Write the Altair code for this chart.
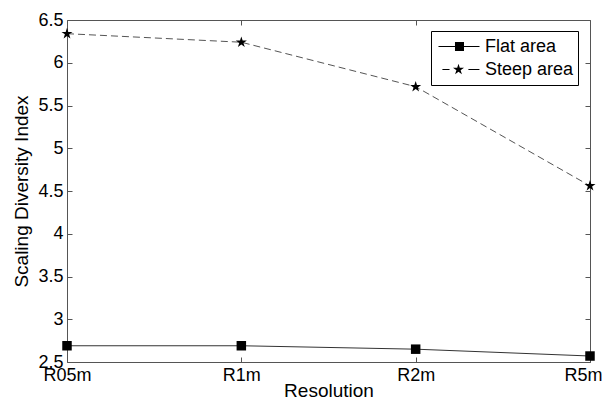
import altair as alt
import pandas as pd
import numpy as np

# ---- data ----
resolutions = ["R05m", "R1m", "R2m", "R5m"]
flat_area = [2.69, 2.69, 2.65, 2.57]
steep_area = [6.34, 6.24, 5.72, 4.56]
series_names = ["Flat area", "Steep area"]
y_ticks = [2.5, 3, 3.5, 4, 4.5, 5, 5.5, 6, 6.5]

df = pd.DataFrame({
    "Resolution": resolutions * 2,
    "value": flat_area + steep_area,
    "series": [series_names[0]] * len(resolutions) + [series_names[1]] * len(resolutions),
})

FONT = "Liberation Sans"
FRAME = "#555555"
W, H = 523, 342
TICK = 5


def star_path(cx, r_out, ratio=0.382):
    pts = []
    for k in range(10):
        ang = np.deg2rad(-90 + 36 * k)
        r = r_out if k % 2 == 0 else r_out * ratio
        pts.append((cx + r * np.cos(ang), r * np.sin(ang)))
    return "M" + "L".join(f"{x:.4f},{y:.4f}" for x, y in pts) + "Z"


def seg(x0, x1, h=0.022):
    # thin filled bar standing in for a legend line segment
    return f"M{x0},{-h}L{x1},{-h}L{x1},{h}L{x0},{h}Z"


SQUARE = "M-1,-1H1V1H-1Z"
STAR = star_path(0, 1)
LEG_SQUARE = seg(-0.87, 0.913) + "M-0.153,-0.196L0.239,-0.196L0.239,0.196L-0.153,0.196Z"
LEG_STAR = seg(-0.70, -0.39) + seg(0.43, 0.91) + star_path(0, 0.252)

x_enc = alt.X(
    "Resolution:N",
    scale=alt.Scale(type="point", domain=resolutions, padding=0),
    sort=resolutions,
    axis=alt.Axis(orient="bottom", title="Resolution", ticks=False, domain=False,
                  labelPadding=4, titleY=34, titleBaseline="alphabetic", labelAngle=0,
                  labelAlign=alt.condition(alt.datum.value == resolutions[-1],
                                           alt.value("right"), alt.value("center")),
                  labelOffset=alt.condition(alt.datum.value == resolutions[-1],
                                            alt.value(12), alt.value(0)),
                  grid=True, gridColor=FRAME, gridOpacity=1, gridWidth=1,
                  gridDash=[TICK, H - 2 * TICK, TICK, 3000]),
)
y_enc = alt.Y(
    "value:Q",
    scale=alt.Scale(domain=[2.5, 6.5], nice=False, zero=False),
    axis=alt.Axis(orient="left", title="Scaling Diversity Index", ticks=False,
                  domain=False, values=y_ticks, format="~g", labelPadding=4,
                  titlePadding=6, labelFlush=False, labelOverlap=False,
                  grid=True, gridColor=FRAME, gridOpacity=1, gridWidth=1,
                  gridDash=[TICK, W - 2 * TICK, TICK, 3000]),
)

base = alt.Chart(df)
flat = base.transform_filter(alt.datum.series == series_names[0])
steep = base.transform_filter(alt.datum.series == series_names[1])

flat_line = flat.mark_line(strokeWidth=1, color="#333333").encode(x=x_enc, y=y_enc)
steep_line = steep.mark_line(strokeWidth=1, color="#555555", strokeDash=[7, 4]).encode(
    x=x_enc, y=y_enc)

flat_pts = flat.mark_point(filled=True, color="black", opacity=1, size=90, shape=SQUARE).encode(
    x=x_enc, y=y_enc)
steep_pts = steep.mark_point(filled=True, color="black", opacity=1, size=135, shape=STAR).encode(
    x=x_enc, y=y_enc)

legend_layer = base.mark_point(filled=True, fill="black", stroke="black", strokeWidth=1,
                               opacity=0).encode(
    x=x_enc, y=y_enc,
    shape=alt.Shape("series:N",
                    scale=alt.Scale(domain=series_names, range=[LEG_SQUARE, LEG_STAR]),
                    legend=alt.Legend(title=None, orient="none", legendX=364, legendY=11,
                                      padding=4, strokeColor="black", fillColor="white",
                                      symbolSize=2116, symbolStrokeColor="black",
                                      symbolFillColor="black", symbolStrokeWidth=1,
                                      symbolOpacity=1, clipHeight=23, rowPadding=0,
                                      labelOffset=3, labelFontSize=18, labelFont=FONT,
                                      labelColor="black")),
)

chart = alt.layer(flat_line, steep_line, flat_pts, steep_pts, legend_layer).properties(
    width=W, height=H, autosize="none",
    padding={"left": 59, "top": 12, "right": 12, "bottom": 37},
    background="white",
).configure_view(
    stroke=FRAME, strokeWidth=1
).configure_axis(
    labelFont=FONT, titleFont=FONT, labelFontSize=18, titleFontSize=19,
    titleFontWeight="normal", labelColor="black", titleColor="black",
)

chart.save("out.html", embed_options={"renderer": "svg", "actions": False})
